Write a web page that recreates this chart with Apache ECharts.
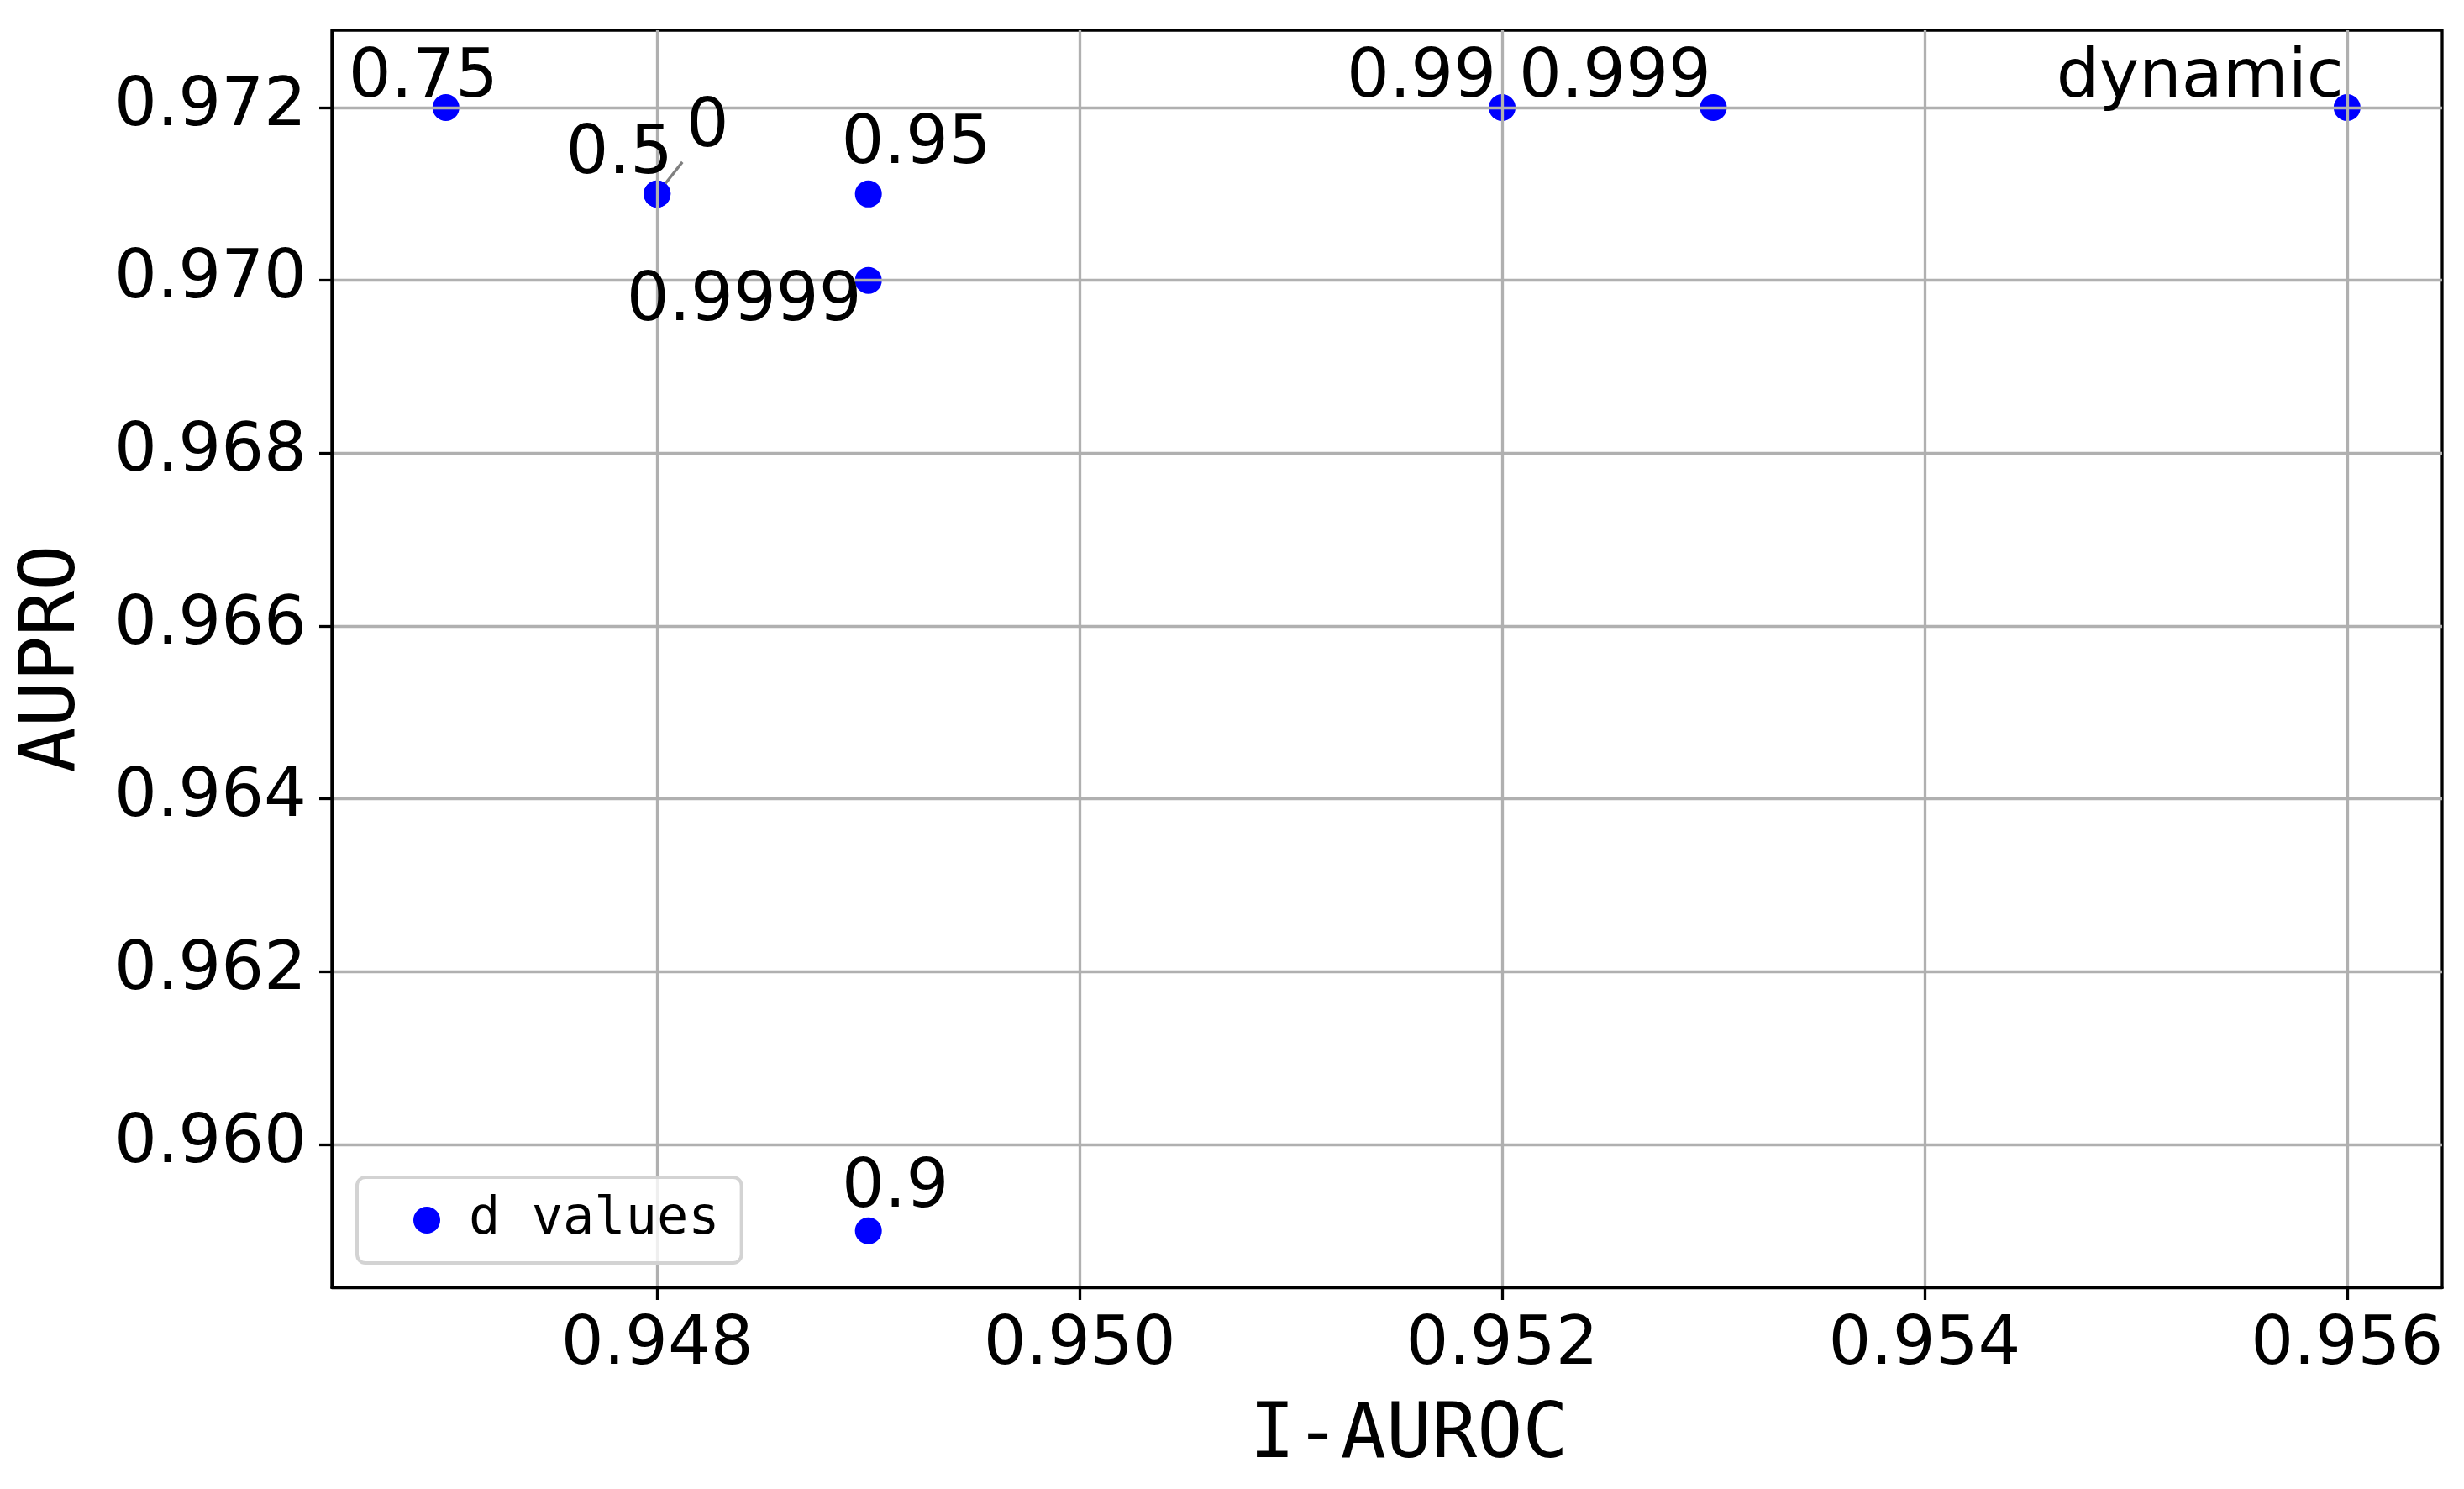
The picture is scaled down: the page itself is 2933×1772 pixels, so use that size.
<!DOCTYPE html>
<html><head><meta charset="utf-8">
<script src="https://cdn.jsdelivr.net/npm/echarts@6/dist/echarts.min.js"></script>
<style>html,body{margin:0;padding:0;background:#fff}#c{width:2933px;height:1772px}</style>
</head><body><div id="c"></div>
<script>
// ---- data ----
const pointNames = ['0', '0.5', '0.75', '0.9', '0.95', '0.99', '0.999', '0.9999', 'dynamic'];
const iAuroc = [0.948, 0.948, 0.947, 0.949, 0.949, 0.952, 0.953, 0.949, 0.956];
const aupro  = [0.971, 0.971, 0.972, 0.959, 0.971, 0.972, 0.972, 0.970, 0.972];
const xTicks = [0.948, 0.950, 0.952, 0.954, 0.956];
const yTicks = [0.960, 0.962, 0.964, 0.966, 0.968, 0.970, 0.972];
const seriesName = 'd values';
const xName = 'I-AUROC';
const yName = 'AUPRO';

// ---- styling: label pixel offsets relative to each point ----
const labelOffsets = {
  '0': [30, -78], '0.5': [-45, -46], '0.75': [-27, -34], '0.9': [32, -50],
  '0.95': [57, -58], '0.99': [-96, -34], '0.999': [-117, -34],
  '0.9999': [-148, 27], 'dynamic': [-175, -34]
};
const labelPadding = { '0': [0, 0, 0, 60] };
const withGuide = ['0'];

const pts = iAuroc.map((x, i) => [x, aupro[i]]);
const labelData = pts.map((p, i) => {
  const n = pointNames[i];
  const item = { name: n, value: p, label: { offset: labelOffsets[n] } };
  if (labelPadding[n]) {
    item.label.padding = labelPadding[n];
    item.label.backgroundColor = 'rgba(255,255,255,0)';
  }
  if (withGuide.indexOf(n) >= 0) {
    item.labelLine = { show: true, length2: 0, lineStyle: { color: '#808080', width: 3.3 } };
  }
  return item;
});

const tickFont = { fontFamily: 'DejaVu Sans', fontSize: 80, color: '#000000' };
const nameFont = { fontFamily: 'DejaVu Sans Mono', fontSize: 90, color: '#000000' };
const black = { color: '#000', width: 3.3 };

const chart = echarts.init(document.getElementById('c'), null, { renderer: 'canvas', width: 2933, height: 1772 });
chart.setOption({
  animation: false,
  backgroundColor: '#fff',
  grid: {
    left: 395, right: 26, top: 36, bottom: 240,
    show: true, borderColor: '#000', borderWidth: 3.3, backgroundColor: 'transparent',
    containLabel: false, outerBoundsMode: 'none'
  },
  legend: {
    data: [{ name: seriesName, icon: 'circle' }],
    left: 425, top: 1401,
    orient: 'horizontal',
    itemWidth: 90, itemHeight: 32,
    padding: [20, 26, 20, 67],
    backgroundColor: 'rgba(255,255,255,0.8)',
    borderColor: '#d3d3d3', borderWidth: 4, borderRadius: 10,
    textStyle: { fontFamily: 'DejaVu Sans Mono', fontSize: 62, color: '#000000' },
    selectedMode: false,
    z: 6
  },
  xAxis: {
    type: 'value', min: 0.94646, max: 0.95645, z: 3,
    name: xName, nameLocation: 'middle', nameGap: 134,
    nameTextStyle: Object.assign({ padding: [0, 0, 0, 52] }, nameFont),
    axisLine: { show: true, onZero: false, lineStyle: black },
    axisTick: { show: true, inside: false, length: 15, customValues: xTicks, lineStyle: black },
    axisLabel: Object.assign({ customValues: xTicks, margin: 30, formatter: v => v.toFixed(3) }, tickFont),
    splitLine: { show: true, lineStyle: { color: '#b0b0b0', width: 3.3 } }
  },
  yAxis: {
    type: 'value', min: 0.958346, max: 0.972895, z: 3,
    name: yName, nameLocation: 'middle', nameGap: 285, nameRotate: 90, nameTextStyle: nameFont,
    axisLine: { show: true, onZero: false, lineStyle: black },
    axisTick: { show: true, inside: false, length: 15, customValues: yTicks, lineStyle: black },
    axisLabel: Object.assign({ customValues: yTicks, margin: 30, formatter: v => v.toFixed(3) }, tickFont),
    splitLine: { show: true, lineStyle: { color: '#b0b0b0', width: 3.3 } }
  },
  series: [
    {
      name: seriesName, type: 'scatter', data: pts, z: 2,
      symbol: 'circle', symbolSize: 32,
      itemStyle: { color: '#0000ff', opacity: 1 },
      silent: true
    },
    {
      name: 'labels', type: 'scatter', data: labelData, z: 4,
      symbol: 'circle', symbolSize: 32,
      itemStyle: { color: 'rgba(0,0,0,0)' },
      label: Object.assign({
        show: true, position: 'inside', formatter: '{b}', align: 'center', verticalAlign: 'middle',
        textBorderWidth: 0, textBorderColor: 'transparent', textShadowBlur: 0, opacity: 1
      }, tickFont),
      silent: true
    }
  ]
});
</script>
</body></html>
